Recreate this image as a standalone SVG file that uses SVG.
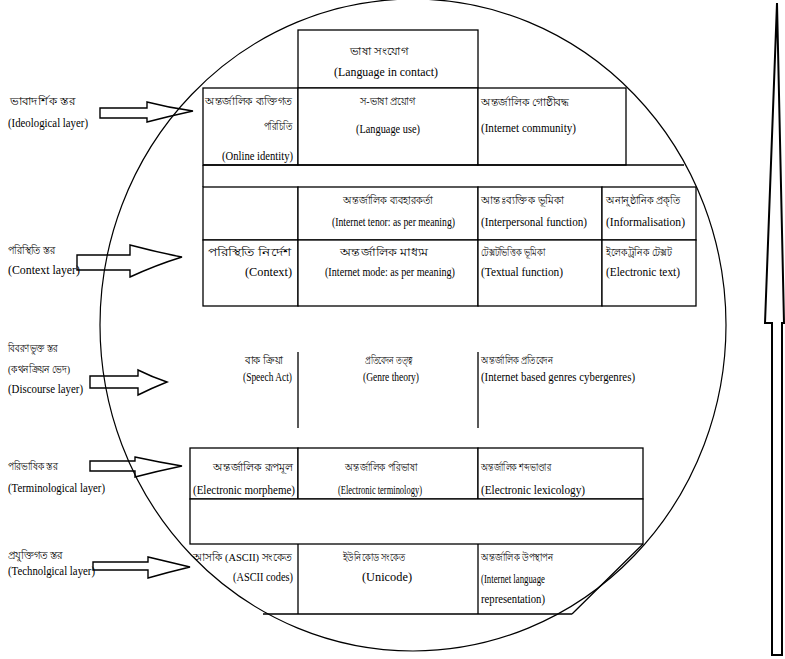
<svg xmlns="http://www.w3.org/2000/svg" width="785" height="659" viewBox="0 0 785 659">
<style>
.t{font-family:"Liberation Serif","Noto Sans",serif;font-size:12.5px;fill:#000}
.b{font-family:"Liberation Serif","Noto Sans",serif;font-size:11px;fill:#000}
.cell{fill:#fff;stroke:#000;stroke-width:1.3}
.ln{fill:none;stroke:#000;stroke-width:1.3}
.arr{fill:none;stroke:#000;stroke-width:1.4;stroke-linejoin:miter}
.circ{fill:none;stroke:#000;stroke-width:1.2}
</style>
<rect width="785" height="659" fill="#fff"/>

<g id="circle"><ellipse class="circ" cx="413" cy="325" rx="313" ry="326"/></g>

<g id="spike"><polygon points="777,3 765,323 772,323 772,655 782,655 782,323 784,323" fill="#fff" stroke="#000" stroke-width="2" stroke-linejoin="miter"/></g>

<g id="connectors">
<path class="arr" d="M100,108 H147 V102 Q170,108 193,111 Q170,116 147,122 V118 H100 Z"/>
<path class="arr" d="M77,255 H130 V245 Q156,252 182,257 Q156,265 130,277 V270 H77 Z"/>
<path class="arr" d="M90,376 H138 V370 Q152,377 167,382 Q152,388 138,395 V388 H90 Z"/>
<path class="arr" d="M90,461 H135 V457 Q158,462 182,466 Q158,471 135,477 V471 H90 Z"/>
<path class="arr" d="M93,562 H148 V557 Q169,562 190,567 Q169,572 148,578 V570 H93 Z"/>
</g>

<g id="layer-ideological">
<text class="b" x="10" y="105" textLength="65" lengthAdjust="spacingAndGlyphs">ভাবাদর্শিক স্তর</text>
<text class="t" x="8" y="127" textLength="80" lengthAdjust="spacingAndGlyphs">(Ideological layer)</text>
</g>
<g id="layer-context">
<text class="b" x="8" y="254" textLength="47" lengthAdjust="spacingAndGlyphs">পরিস্থিতি স্তর</text>
<text class="t" x="8" y="274" textLength="72" lengthAdjust="spacingAndGlyphs">(Context layer)</text>
</g>
<g id="layer-discourse">
<text class="b" x="8" y="352" textLength="50" lengthAdjust="spacingAndGlyphs">বিবরণভুক্ত স্তর</text>
<text class="b" x="8" y="373" textLength="62" lengthAdjust="spacingAndGlyphs">(কথনক্রিয়ন ভেদ)</text>
<text class="t" x="8" y="393" textLength="75" lengthAdjust="spacingAndGlyphs">(Discourse layer)</text>
</g>
<g id="layer-terminological">
<text class="b" x="8" y="470" textLength="50" lengthAdjust="spacingAndGlyphs">পরিভাষিক স্তর</text>
<text class="t" x="8" y="492" textLength="97" lengthAdjust="spacingAndGlyphs">(Terminological layer)</text>
</g>
<g id="layer-technological">
<text class="b" x="8" y="559" textLength="55" lengthAdjust="spacingAndGlyphs">প্রযুক্তিগত স্তর</text>
<text class="t" x="8" y="575" textLength="87" lengthAdjust="spacingAndGlyphs">(Technolgical layer)</text>
</g>

<g id="table-ideological">
<rect class="cell" x="298" y="30" width="180" height="58"/>
<rect class="cell" x="203" y="88" width="95" height="77"/>
<rect class="cell" x="298" y="88" width="180" height="77"/>
<rect class="cell" x="478" y="88" width="148" height="77"/>
<path class="ln" d="M203,165 H684 M203,165 V187"/>
<text class="b" x="350" y="55" textLength="58" lengthAdjust="spacingAndGlyphs">ভাষা সংযোগ</text>
<text class="t" x="334" y="76" textLength="104" lengthAdjust="spacingAndGlyphs">(Language in contact)</text>
<text class="b" x="205" y="105" textLength="87" lengthAdjust="spacingAndGlyphs">অন্তর্জালিক ব্যক্তিগত</text>
<text class="b" x="264" y="130" textLength="28" lengthAdjust="spacingAndGlyphs">পরিচিতি</text>
<text class="t" x="222" y="160" textLength="71" lengthAdjust="spacingAndGlyphs">(Online identity)</text>
<text class="b" x="360" y="105" textLength="55" lengthAdjust="spacingAndGlyphs">স-ভাষা প্রয়োগ</text>
<text class="t" x="356" y="133" textLength="64" lengthAdjust="spacingAndGlyphs">(Language use)</text>
<text class="b" x="481" y="106" textLength="88" lengthAdjust="spacingAndGlyphs">অন্তর্জালিক গোষ্ঠীবদ্ধ</text>
<text class="t" x="481" y="132" textLength="95" lengthAdjust="spacingAndGlyphs">(Internet community)</text>
</g>

<g id="table-context">
<rect class="cell" x="203" y="187" width="95" height="53"/>
<rect class="cell" x="298" y="187" width="180" height="53"/>
<rect class="cell" x="478" y="187" width="124" height="53"/>
<rect class="cell" x="602" y="187" width="94" height="53"/>
<rect class="cell" x="203" y="240" width="95" height="66"/>
<rect class="cell" x="298" y="240" width="180" height="66"/>
<rect class="cell" x="478" y="240" width="124" height="66"/>
<rect class="cell" x="602" y="240" width="94" height="66"/>
<text class="b" x="343" y="204" textLength="90" lengthAdjust="spacingAndGlyphs">অন্তর্জালিক ব্যবহারকর্তা</text>
<text class="t" x="332" y="226" textLength="123" lengthAdjust="spacingAndGlyphs">(Internet tenor: as per meaning)</text>
<text class="b" x="481" y="204" textLength="83" lengthAdjust="spacingAndGlyphs">আন্তঃব্যক্তিক ভূমিকা</text>
<text class="t" x="481" y="226" textLength="106" lengthAdjust="spacingAndGlyphs">(Interpersonal function)</text>
<text class="b" x="606" y="204" textLength="74" lengthAdjust="spacingAndGlyphs">অনানুষ্ঠানিক প্রকৃতি</text>
<text class="t" x="606" y="226" textLength="79" lengthAdjust="spacingAndGlyphs">(Informalisation)</text>
<text class="b" x="208" y="256" textLength="84" lengthAdjust="spacingAndGlyphs">পরিস্থিতি নির্দেশ</text>
<text class="t" x="245" y="276" textLength="47" lengthAdjust="spacingAndGlyphs">(Context)</text>
<text class="b" x="340" y="256" textLength="88" lengthAdjust="spacingAndGlyphs">অন্তর্জালিক মাধ্যম</text>
<text class="t" x="325" y="276" textLength="130" lengthAdjust="spacingAndGlyphs">(Internet mode: as per meaning)</text>
<text class="b" x="481" y="256" textLength="64" lengthAdjust="spacingAndGlyphs">টেক্সটভিত্তিক ভূমিকা</text>
<text class="t" x="481" y="276" textLength="82" lengthAdjust="spacingAndGlyphs">(Textual function)</text>
<text class="b" x="606" y="256" textLength="66" lengthAdjust="spacingAndGlyphs">ইলেকট্রনিক টেক্সট</text>
<text class="t" x="606" y="276" textLength="74" lengthAdjust="spacingAndGlyphs">(Electronic text)</text>
</g>

<g id="table-discourse">
<path class="ln" d="M298,352 V428 M478,352 V428"/>
<text class="b" x="245" y="364" textLength="38" lengthAdjust="spacingAndGlyphs">বাক ক্রিয়া</text>
<text class="t" x="243" y="381" textLength="49" lengthAdjust="spacingAndGlyphs">(Speech Act)</text>
<text class="b" x="365" y="364" textLength="48" lengthAdjust="spacingAndGlyphs">প্রতিবেদন তত্ত্ব</text>
<text class="t" x="363" y="381" textLength="56" lengthAdjust="spacingAndGlyphs">(Genre theory)</text>
<text class="b" x="481" y="364" textLength="72" lengthAdjust="spacingAndGlyphs">অন্তর্জালিক প্রতিবেদন</text>
<text class="t" x="481" y="381" textLength="154" lengthAdjust="spacingAndGlyphs">(Internet based genres cybergenres)</text>
</g>

<g id="table-terminological">
<rect class="cell" x="190" y="448" width="108" height="51"/>
<rect class="cell" x="298" y="448" width="180" height="51"/>
<rect class="cell" x="478" y="448" width="165" height="51"/>
<rect class="cell" x="190" y="499" width="453" height="45"/>
<text class="b" x="213" y="471" textLength="80" lengthAdjust="spacingAndGlyphs">অন্তর্জালিক রূপমূল</text>
<text class="t" x="193" y="494" textLength="102" lengthAdjust="spacingAndGlyphs">(Electronic morpheme)</text>
<text class="b" x="345" y="471" textLength="72" lengthAdjust="spacingAndGlyphs">অন্তর্জালিক পরিভাষা</text>
<text class="t" x="338" y="494" textLength="84" lengthAdjust="spacingAndGlyphs">(Electronic terminology)</text>
<text class="b" x="481" y="471" textLength="70" lengthAdjust="spacingAndGlyphs">অন্তর্জালিক শব্দভাণ্ডার</text>
<text class="t" x="481" y="494" textLength="104" lengthAdjust="spacingAndGlyphs">(Electronic lexicology)</text>
</g>

<g id="table-technological">
<path class="ln" d="M298,544 V614 M478,544 V614 M643,544 L572,614 M263,614 H572"/>
<text class="b" x="193" y="561" textLength="99" lengthAdjust="spacingAndGlyphs">আসকি (ASCII) সংকেত</text>
<text class="t" x="233" y="581" textLength="60" lengthAdjust="spacingAndGlyphs">(ASCII codes)</text>
<text class="b" x="343" y="561" textLength="62" lengthAdjust="spacingAndGlyphs">ইউনিকোড সংকেত</text>
<text class="t" x="362" y="581" textLength="50" lengthAdjust="spacingAndGlyphs">(Unicode)</text>
<text class="b" x="481" y="561" textLength="72" lengthAdjust="spacingAndGlyphs">অন্তর্জালিক উপস্থাপন</text>
<text class="t" x="481" y="583" textLength="64" lengthAdjust="spacingAndGlyphs">(Internet language</text>
<text class="t" x="481" y="603" textLength="64" lengthAdjust="spacingAndGlyphs">representation)</text>
</g>
</svg>
